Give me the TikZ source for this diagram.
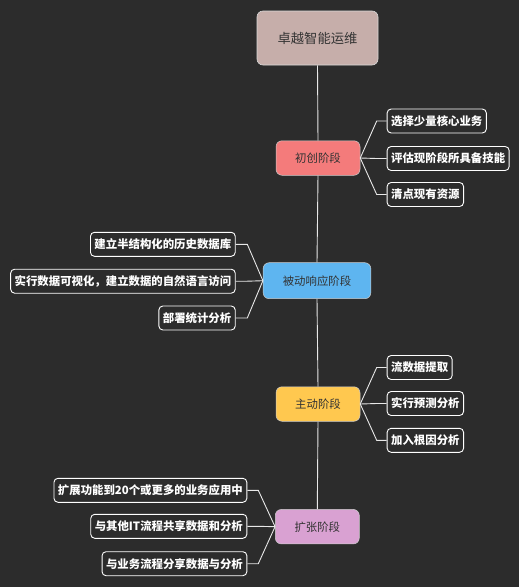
\documentclass[tikz,border=0pt]{standalone}
\usepackage{fontspec}
\setmainfont{Noto Sans CJK SC}
\begin{document}
\begin{tikzpicture}[x=1pt,y=-1pt,
  every node/.style={font=\fontsize{11.4}{13}\selectfont},
  rootbox/.style={draw=white!85!black,line width=0.6pt,rounded corners=6pt,fill=rootc,text=textdark,minimum width=121pt,minimum height=54pt,inner sep=0pt,font=\fontsize{13.3}{15}\selectfont},
  stagebox/.style={draw=white!80!black,line width=0.5pt,rounded corners=6pt,text=textdark,minimum width=84pt,minimum height=34.5pt,inner sep=0pt},
  leafbox/.style={draw=white,line width=0.9pt,rounded corners=4pt,fill=bg,text=white,minimum height=24pt,inner xsep=4pt,inner ysep=0pt,font=\fontsize{11.4}{13}\selectfont\bfseries},
  link/.style={draw=linkc,line width=0.9pt},
]
\definecolor{bg}{HTML}{2C2C2C}
\definecolor{rootc}{HTML}{C6AEAA}
\definecolor{textdark}{HTML}{333333}
\definecolor{c1}{HTML}{F47B7B}
\definecolor{c2}{HTML}{5EB5F0}
\definecolor{c3}{HTML}{FFC84F}
\definecolor{c4}{HTML}{D9A1D2}
\definecolor{linkc}{HTML}{E8E8E8}
\fill[bg] (0,0) rectangle (519,587);
\useasboundingbox (0,0) rectangle (519,587);

\node[rootbox] (root) at (317.5,38) {卓越智能运维};
\node[stagebox,fill=c1] (s1) at (318,158) {初创阶段};
\node[stagebox,fill=c2,minimum width=107.7pt,minimum height=36pt] (s2) at (317,280.7) {被动响应阶段};
\node[stagebox,fill=c3] (s3) at (318,404) {主动阶段};
\node[stagebox,fill=c4] (s4) at (317.3,526.7) {扩张阶段};

\draw[link] (root.south) -- (s1.north);
\draw[link] (s1.south) -- (s2.north);
\draw[link] (s2.south) -- (s3.north);
\draw[link] (s3.south) -- (s4.north);

% stage 1 leaves
\node[leafbox,anchor=west] (a1) at (386.7,121) {选择少量核心业务};
\node[leafbox,anchor=west] (a2) at (386.7,158.5) {评估现阶段所具备技能};
\node[leafbox,anchor=west] (a3) at (386.7,194.5) {清点现有资源};
\foreach \n in {a1,a2,a3}
  \draw[link] (s1.east) -- ([xshift=-10pt]\n.west) -- (\n.west);

% stage 2 leaves
\node[leafbox,anchor=east] (b1) at (235.7,244.3) {建立半结构化的历史数据库};
\node[leafbox,anchor=east] (b2) at (235.7,281.2) {实行数据可视化，建立数据的自然语言访问};
\node[leafbox,anchor=east] (b3) at (235.7,318) {部署统计分析};
\foreach \n in {b1,b2,b3}
  \draw[link] (s2.west) -- ([xshift=11.6pt]\n.east) -- (\n.east);

% stage 3 leaves
\node[leafbox,anchor=west] (d1) at (386.7,367.5) {流数据提取};
\node[leafbox,anchor=west] (d2) at (386.7,403.5) {实行预测分析};
\node[leafbox,anchor=west] (d3) at (386.7,440.3) {加入根因分析};
\foreach \n in {d1,d2,d3}
  \draw[link] (s3.east) -- ([xshift=-10pt]\n.west) -- (\n.west);

% stage 4 leaves
\node[leafbox,anchor=east] (e1) at (247.3,490.3) {扩展功能到20个或更多的业务应用中};
\node[leafbox,anchor=east] (e2) at (247.3,526.3) {与其他IT流程共享数据和分析};
\node[leafbox,anchor=east] (e3) at (247.3,563.7) {与业务流程分享数据与分析};
\foreach \n in {e1,e2,e3}
  \draw[link] (s4.west) -- ([xshift=11pt]\n.east) -- (\n.east);
\end{tikzpicture}
\end{document}
